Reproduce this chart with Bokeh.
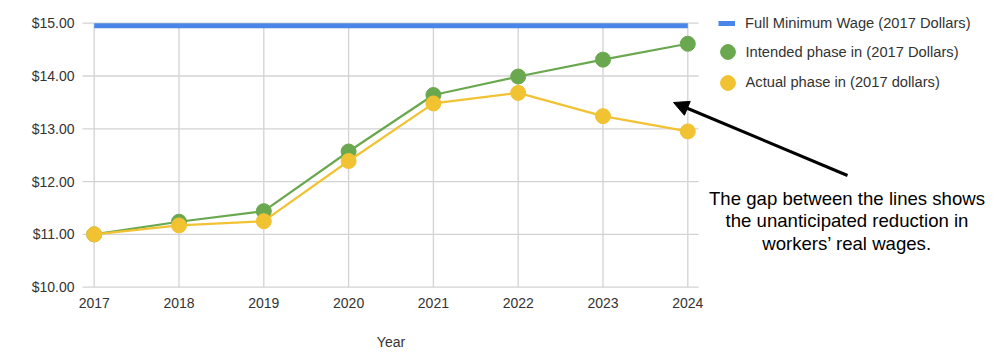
from bokeh.plotting import figure
from bokeh.models import (Range1d, FixedTicker, Legend, LegendItem, Arrow, NormalHead, Label)
from bokeh.core.properties import value
from bokeh.embed import file_html
from bokeh.resources import INLINE

years = [2017, 2018, 2019, 2020, 2021, 2022, 2023, 2024]
year_labels = ["2017", "2018", "2019", "2020", "2021", "2022", "2023", "2024"]
full_min_wage = [14.95] * 8
intended = [11.00, 11.24, 11.44, 12.57, 13.64, 13.99, 14.31, 14.61]
actual = [11.00, 11.17, 11.25, 12.39, 13.48, 13.68, 13.24, 12.95]
y_ticks = [10, 11, 12, 13, 14, 15]
y_tick_labels = ["$10.00", "$11.00", "$12.00", "$13.00", "$14.00", "$15.00"]
x_axis_title = "Year"
series_names = ["Full Minimum Wage (2017 Dollars)",
                "Intended phase in (2017 Dollars)",
                "Actual phase in (2017 dollars)"]
note_lines = ["The gap between the lines shows",
              "the unanticipated reduction in",
              "workers\u2019 real wages."]

FONT = "Liberation Sans"
BLUE = "#4a86e8"
GREEN = "#6aa84f"
YELLOW = "#f1c232"
GRID = "#d3d3d3"
TXT = "#333333"

# pixel scale: 84.8 px per year, 52.8 px per dollar
PX_YR, PX_USD = 84.8, 52.8
FRAME_LEFT = 76

def ypx(py):
    return 15 - (py - 22.7) / PX_USD

def xpx(px):
    return 2017 + (px - 93.7) / PX_YR

x0 = xpx(FRAME_LEFT)
x1 = xpx(1000)
x_grid_start = xpx(82)
x_grid_end = xpx(698)
y1 = ypx(0)
y0 = ypx(357)

p = figure(width=1000, height=357, output_backend="svg", toolbar_location=None,
           x_range=Range1d(x0, x1), y_range=Range1d(y0, y1),
           min_border_left=FRAME_LEFT, min_border_right=0, min_border_top=0,
           min_border_bottom=0)
p.outline_line_color = None
p.xgrid.visible = False
p.ygrid.visible = False
p.xaxis.visible = False

# gridlines drawn from tick arrays
p.segment(x0=[x_grid_start] * len(y_ticks), x1=[x_grid_end] * len(y_ticks), y0=y_ticks,
          y1=y_ticks, line_color=GRID, line_width=1.3)
p.segment(x0=years, x1=years, y0=[min(y_ticks)] * len(years), y1=[max(y_ticks)] * len(years),
          line_color=GRID, line_width=1.3)

# y axis
p.yaxis.ticker = FixedTicker(ticks=y_ticks)
p.yaxis.major_label_overrides = {t: l for t, l in zip(y_ticks, y_tick_labels)}
p.yaxis.axis_line_color = None
p.yaxis.major_tick_line_color = None
p.yaxis.minor_tick_line_color = None
p.yaxis.major_tick_out = 0
p.yaxis.major_tick_in = 0
p.yaxis.major_label_standoff = 2
p.yaxis.major_label_text_font = FONT
p.yaxis.major_label_text_font_size = "14px"
p.yaxis.major_label_text_color = TXT

# x tick labels and axis title as text
p.text(x=years, y=[ypx(302.8)] * len(years), text=year_labels, text_align="center",
       text_baseline="middle", text_font=value(FONT), text_font_size="14px", text_color=TXT)
p.text(x=[(years[0] + years[-1]) / 2], y=[ypx(341)], text=[x_axis_title], text_align="center",
       text_baseline="middle", text_font=value(FONT), text_font_size="14px", text_color=TXT)

# series
r_full = p.line(years, full_min_wage, line_color=BLUE, line_width=5)
p.line(years, intended, line_color=GREEN, line_width=2.2)
r_int = p.scatter(years, intended, size=15, fill_color=GREEN, line_color=GREEN)
p.line(years, actual, line_color=YELLOW, line_width=2.2)
r_act = p.scatter(years, actual, size=15, fill_color=YELLOW, line_color=YELLOW)

common = dict(margin=0, padding=0, label_text_font=FONT, label_text_font_size="14.7px",
              label_text_color=TXT, border_line_color=None, background_fill_alpha=0)
leg1 = Legend(items=[LegendItem(label=series_names[0], renderers=[r_full])],
              location=(718 - FRAME_LEFT, 357 - 33.3), glyph_height=20, glyph_width=17,
              label_standoff=10, **common)
leg2 = Legend(items=[LegendItem(label=series_names[1], renderers=[r_int])],
              location=(708.5 - FRAME_LEFT, 357 - 70.2), glyph_height=37, glyph_width=37,
              label_standoff=0, **common)
leg3 = Legend(items=[LegendItem(label=series_names[2], renderers=[r_act])],
              location=(708.5 - FRAME_LEFT, 357 - 100.8), glyph_height=37, glyph_width=37,
              label_standoff=0, **common)
p.add_layout(leg1)
p.add_layout(leg2)
p.add_layout(leg3)

# annotation arrow and note
p.add_layout(Arrow(x_start=xpx(847), y_start=ypx(175), x_end=xpx(673), y_end=ypx(102),
                   line_color="black", line_width=3,
                   end=NormalHead(size=15, fill_color="black", line_color="black")))
for i, t in enumerate(note_lines):
    p.add_layout(Label(x=xpx(846.5), y=ypx(197.5 + i * 22.5), text=t, text_align="center",
                       text_baseline="middle", text_font=FONT, text_font_size="18.6px",
                       text_color="black"))

open("out.html", "w").write(file_html(p, INLINE))
